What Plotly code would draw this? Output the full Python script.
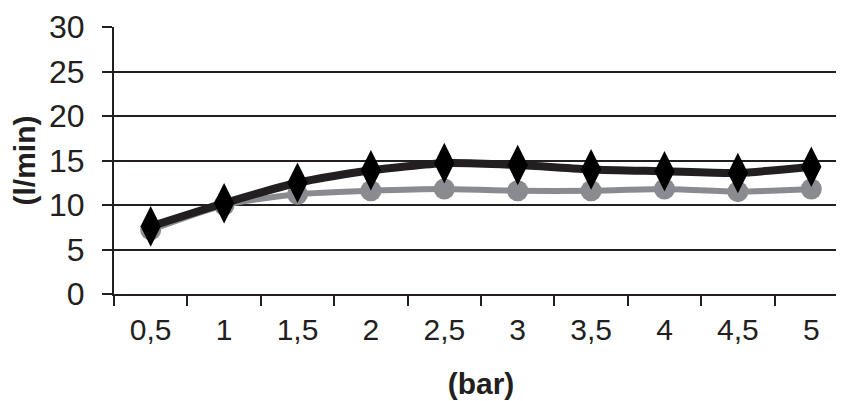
import plotly.graph_objects as go

categories = ["0,5", "1", "1,5", "2", "2,5", "3", "3,5", "4", "4,5", "5"]
series_black = [7.6, 10.2, 12.5, 13.9, 14.7, 14.5, 14.0, 13.8, 13.6, 14.3]
series_gray = [7.2, 10.0, 11.2, 11.6, 11.8, 11.6, 11.6, 11.8, 11.5, 11.8]
y_ticks = [0, 5, 10, 15, 20, 25, 30]

ink = "#231f20"
gray = "#898b90"

fig = go.Figure()
fig.add_trace(go.Scatter(
    x=categories, y=series_gray, mode="lines+markers",
    line=dict(color=gray, width=6, shape="spline", smoothing=0.6),
    marker=dict(symbol="circle", size=21, color=gray),
    showlegend=False, cliponaxis=False))
fig.add_trace(go.Scatter(
    x=categories, y=series_black, mode="lines+markers",
    line=dict(color=ink, width=8, shape="spline", smoothing=0.6),
    marker=dict(symbol="diamond-tall", size=29, color="#000000"),
    showlegend=False, cliponaxis=False))

# page body has an 8px default margin, so the figure is sized/placed to compensate
fig.update_layout(
    width=844, height=393,
    margin=dict(l=106, r=4, t=19, b=107),
    paper_bgcolor="white", plot_bgcolor="white",
    font=dict(family="Liberation Sans, Arial, sans-serif", color=ink),
)
fig.update_xaxes(
    type="category", range=[-0.5, 9.5], automargin=False,
    tickson="boundaries", ticks="outside", ticklen=10, tickwidth=2, tickcolor=ink,
    showline=True, linecolor=ink, linewidth=2, showgrid=False,
    tickfont=dict(size=30),
    ticklabelstandoff=8,
    title=dict(text="<b>(bar)</b>", font=dict(size=30), standoff=28),
)
fig.update_yaxes(
    range=[0, 30], tickvals=y_ticks, automargin=False,
    ticks="outside", ticklen=10, tickwidth=2, tickcolor=ink,
    showline=True, linecolor=ink, linewidth=2,
    showgrid=True, gridcolor=ink, gridwidth=2, zeroline=False,
    tickfont=dict(size=32), ticklabelstandoff=11,
    title=dict(text="<b>(l/min)</b>", font=dict(size=30), standoff=20),
)

fig.write_html("out.html")
